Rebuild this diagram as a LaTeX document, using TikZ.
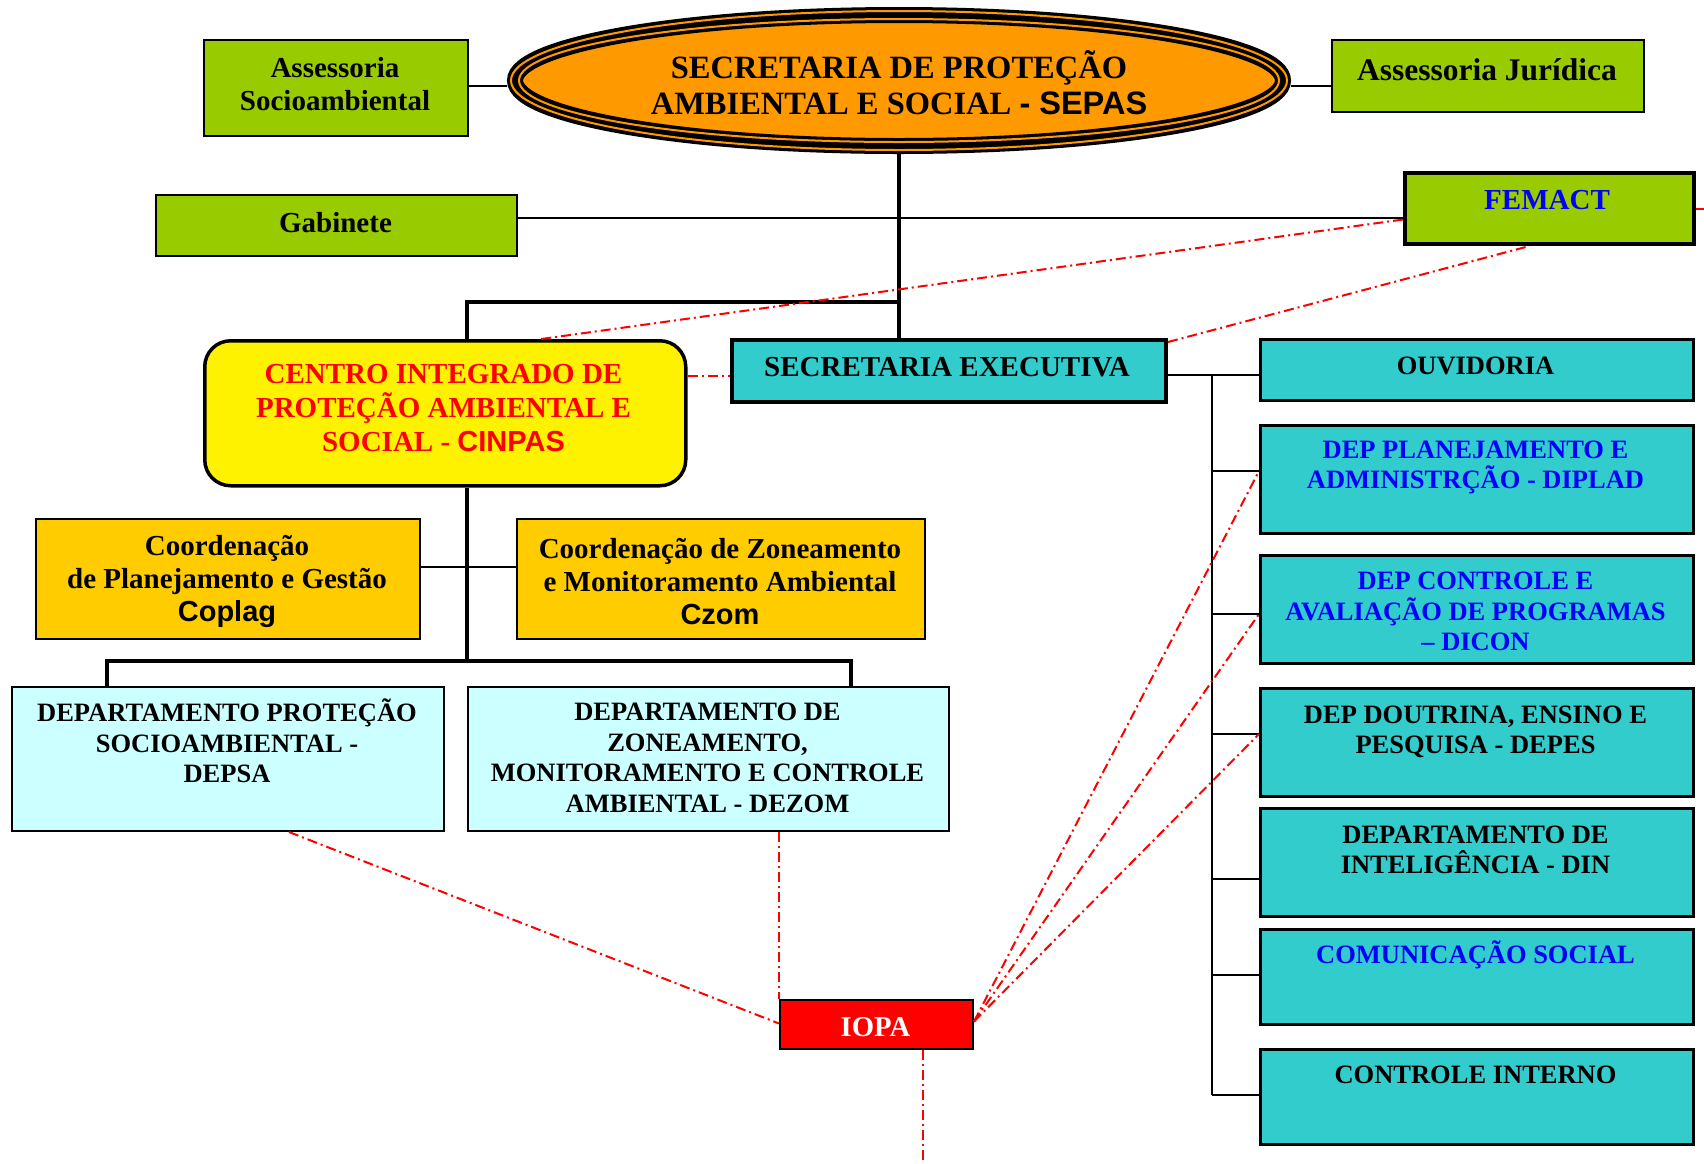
\documentclass[tikz,border=0pt]{standalone}
\usepackage{fontspec}
\setmainfont{Liberation Serif}
\newfontfamily\arialfont{Liberation Sans}
\usetikzlibrary{shapes.geometric}
\definecolor{leafgreen}{HTML}{99CC00}
\definecolor{sepasorange}{HTML}{FF9900}
\definecolor{coordgold}{HTML}{FFCC00}
\definecolor{paleblue}{HTML}{CCFFFF}
\definecolor{deptcyan}{HTML}{33CCCC}

\begin{document}
\begin{tikzpicture}[x=1pt,y=-1pt,
  orgbox/.style={draw=black,line width=2pt,inner sep=0pt,anchor=north west},
  lbl/.style={inner sep=0pt,align=center},
  hfont/.style={font=\fontsize{29}{33}\selectfont\bfseries},
  dfont/.style={font=\fontsize{26.5}{30.5}\selectfont\bfseries},
  wire/.style={line width=2pt},
  trunkline/.style={line width=3.5pt},
  redlink/.style={red,line width=2pt,dash pattern=on 10pt off 4pt on 2pt off 4pt}]
\useasboundingbox (0,0) rectangle (1704,1163);

\node[ellipse,draw,line width=16pt,fill=sepasorange,minimum width=768pt,minimum height=131pt,inner sep=0pt] (sepas) at (899,80.5) {};
\draw[sepasorange,line width=2pt] (sepas.center) ellipse [x radius=388pt,y radius=69.5pt];
\draw[sepasorange,line width=2pt] (sepas.center) ellipse [x radius=380pt,y radius=61.5pt];
\node[lbl,font=\fontsize{32.5}{36}\selectfont\bfseries] (sepas-t) at (899,83)
  {SECRETARIA DE PROTEÇÃO\\AMBIENTAL E SOCIAL {\arialfont - SEPAS}};

\node[orgbox,fill=leafgreen,minimum width=264pt,minimum height=96pt] (socio) at (203,39) {};
\node[lbl,hfont] (socio-t) at (335,83.7) {Assessoria\\Socioambiental};
\node[orgbox,fill=leafgreen,minimum width=312pt,minimum height=72pt] (jur) at (1331,39) {};
\node[lbl,font=\fontsize{31.5}{36}\selectfont\bfseries] (jur-t) at (1487,69.6) {Assessoria Jurídica};
\node[orgbox,fill=leafgreen,minimum width=361pt,minimum height=61pt] (gab) at (155,194) {};
\node[lbl,hfont] (gab-t) at (335.5,222.3) {Gabinete};
\node[orgbox,fill=leafgreen,line width=4pt,minimum width=289pt,minimum height=71pt] (fem) at (1403,171) {};
\node[lbl,hfont,text=blue] (fem-t) at (1547,200) {FEMACT};

\node[orgbox,fill=deptcyan,line width=4pt,minimum width=434pt,minimum height=62pt] (se) at (730,338) {};
\node[lbl,hfont] (se-t) at (947,366.8) {SECRETARIA EXECUTIVA};
\node[orgbox,fill=yellow,line width=3.5pt,rounded corners=26pt,minimum width=481pt,minimum height=145pt] (cinpas) at (203,339) {};
\node[lbl,text=red,font=\fontsize{29}{34}\selectfont\bfseries] (cinpas-t) at (443.5,408.2)
  {CENTRO INTEGRADO DE\\PROTEÇÃO AMBIENTAL E\\SOCIAL - {\arialfont CINPAS}};

\node[orgbox,fill=coordgold,minimum width=384pt,minimum height=120pt] (coplag) at (35,518) {};
\node[lbl,hfont] (coplag-t) at (227,581.3) {Coordenação\\de Planejamento e Gestão\\{\arialfont Coplag}};
\node[orgbox,fill=coordgold,minimum width=408pt,minimum height=120pt] (czom) at (516,518) {};
\node[lbl,hfont] (czom-t) at (720,581.3) {Coordenação de Zoneamento\\e Monitoramento Ambiental\\{\arialfont Czom}};

\node[orgbox,fill=paleblue,minimum width=432pt,minimum height=144pt] (depsa) at (11,686) {};
\node[orgbox,fill=paleblue,minimum width=481pt,minimum height=144pt] (dezom) at (467,686) {};
\node[lbl,dfont] (depsa-t) at (227,740.8) {DEPARTAMENTO PROTEÇÃO\\SOCIOAMBIENTAL -\\DEPSA};
\node[lbl,dfont] (dezom-t) at (707.5,758) {DEPARTAMENTO DE\\ZONEAMENTO,\\MONITORAMENTO E CONTROLE\\AMBIENTAL - DEZOM};

\node[orgbox,fill=red,minimum width=193pt,minimum height=49pt] (iopa) at (779,999) {};
\node[lbl,text=white,font=\fontsize{28.7}{33}\selectfont\bfseries] (iopa-t) at (875.5,1026.8) {IOPA};

\foreach \n/\y/\h in {ouv/338/61,diplad/424/108,dicon/554/108,depes/687/108,din/807/108,comu/928/95,ctrl/1048/95}
  \node[orgbox,fill=deptcyan,line width=2.5pt,minimum width=433pt,minimum height=\h pt] (\n) at (1259,\y) {};
\node[lbl,dfont] (ouv-t) at (1475.5,366) {OUVIDORIA};
\node[lbl,dfont,text=blue] (diplad-t) at (1475.5,467.2) {DEP PLANEJAMENTO E\\ADMINISTRÇÃO - DIPLAD};
\node[lbl,dfont,text=blue] (dicon-t) at (1475.5,611.5) {DEP CONTROLE E\\AVALIAÇÃO DE PROGRAMAS\\– DICON};
\node[lbl,dfont] (depes-t) at (1475.5,731.8) {DEP DOUTRINA, ENSINO E\\PESQUISA - DEPES};
\node[lbl,dfont] (din-t) at (1475.5,850) {DEPARTAMENTO DE\\INTELIGÊNCIA - DIN};
\node[lbl,dfont,text=blue] (comu-t) at (1475.5,955) {COMUNICAÇÃO SOCIAL};
\node[lbl,dfont] (ctrl-t) at (1475.5,1075) {CONTROLE INTERNO};

\coordinate (lvl) at (0,86);
\coordinate (gy) at (0,218);
\coordinate (ct) at (467,302);
\coordinate (cb) at (467,661);
\coordinate (cy) at (467,567);
\coordinate (bl) at (107,661);
\coordinate (br) at (851,661);
\coordinate (bt) at (1212,375);
\coordinate (bb) at (1212,1095);
\coordinate (edger) at (1704,0);
\coordinate (iopaout) at (923,1163);
\foreach \n/\yy in {diplad/471,dicon/614,depes/734,din/879,comu/975,ctrl/1095}
  \coordinate (b-\n) at (1212,\yy);

\draw[wire] (socio.east |- lvl) -- (sepas.west |- lvl);
\draw[wire] (sepas.east |- lvl) -- (jur.west |- lvl);
\draw[wire] (gab.east |- gy) -- (fem.west |- gy);
\draw[trunkline] (sepas.south) -- (sepas.south |- se.north);
\draw[trunkline] (sepas.south |- ct) -- (ct) -- (ct |- cinpas.north);
\draw[trunkline] (cb |- cinpas.south) -- (cb);
\draw[wire,line width=2.5pt] (cy -| coplag.east) -- (cy -| czom.west);
\draw[trunkline] (bl |- depsa.north) -- (bl) -- (br) -- (br |- dezom.north);
\draw[wire] (se.east |- bt) -- (ouv.west |- bt);
\draw[wire] (bt) -- (bb);
\foreach \n in {diplad,dicon,depes,din,comu,ctrl}
  \draw[wire] (b-\n) -- (b-\n -| \n.west);

\coordinate (sex) at ([yshift=-5pt]se.west);
\draw[redlink] (cinpas.east |- sex) -- (sex);
\draw[redlink] ([xshift=96pt]cinpas.north) -- ([yshift=-11pt]fem.west);
\draw[redlink] ([yshift=-4pt]se.north east) -- ([xshift=-20pt]fem.south);
\draw[redlink] (fem.east) -- (fem.east -| edger);
\draw[redlink] ([xshift=61pt]depsa.south) -- ([yshift=1pt]iopa.west);
\draw[redlink] (dezom.south -| iopa.north west) -- (iopa.north west);
\foreach \n in {diplad,dicon,depes}
  \draw[redlink] ([yshift=3pt]iopa.east) -- (b-\n -| \n.west);
\draw[redlink] (iopa.south -| iopaout) -- (iopaout);
\end{tikzpicture}
\end{document}
